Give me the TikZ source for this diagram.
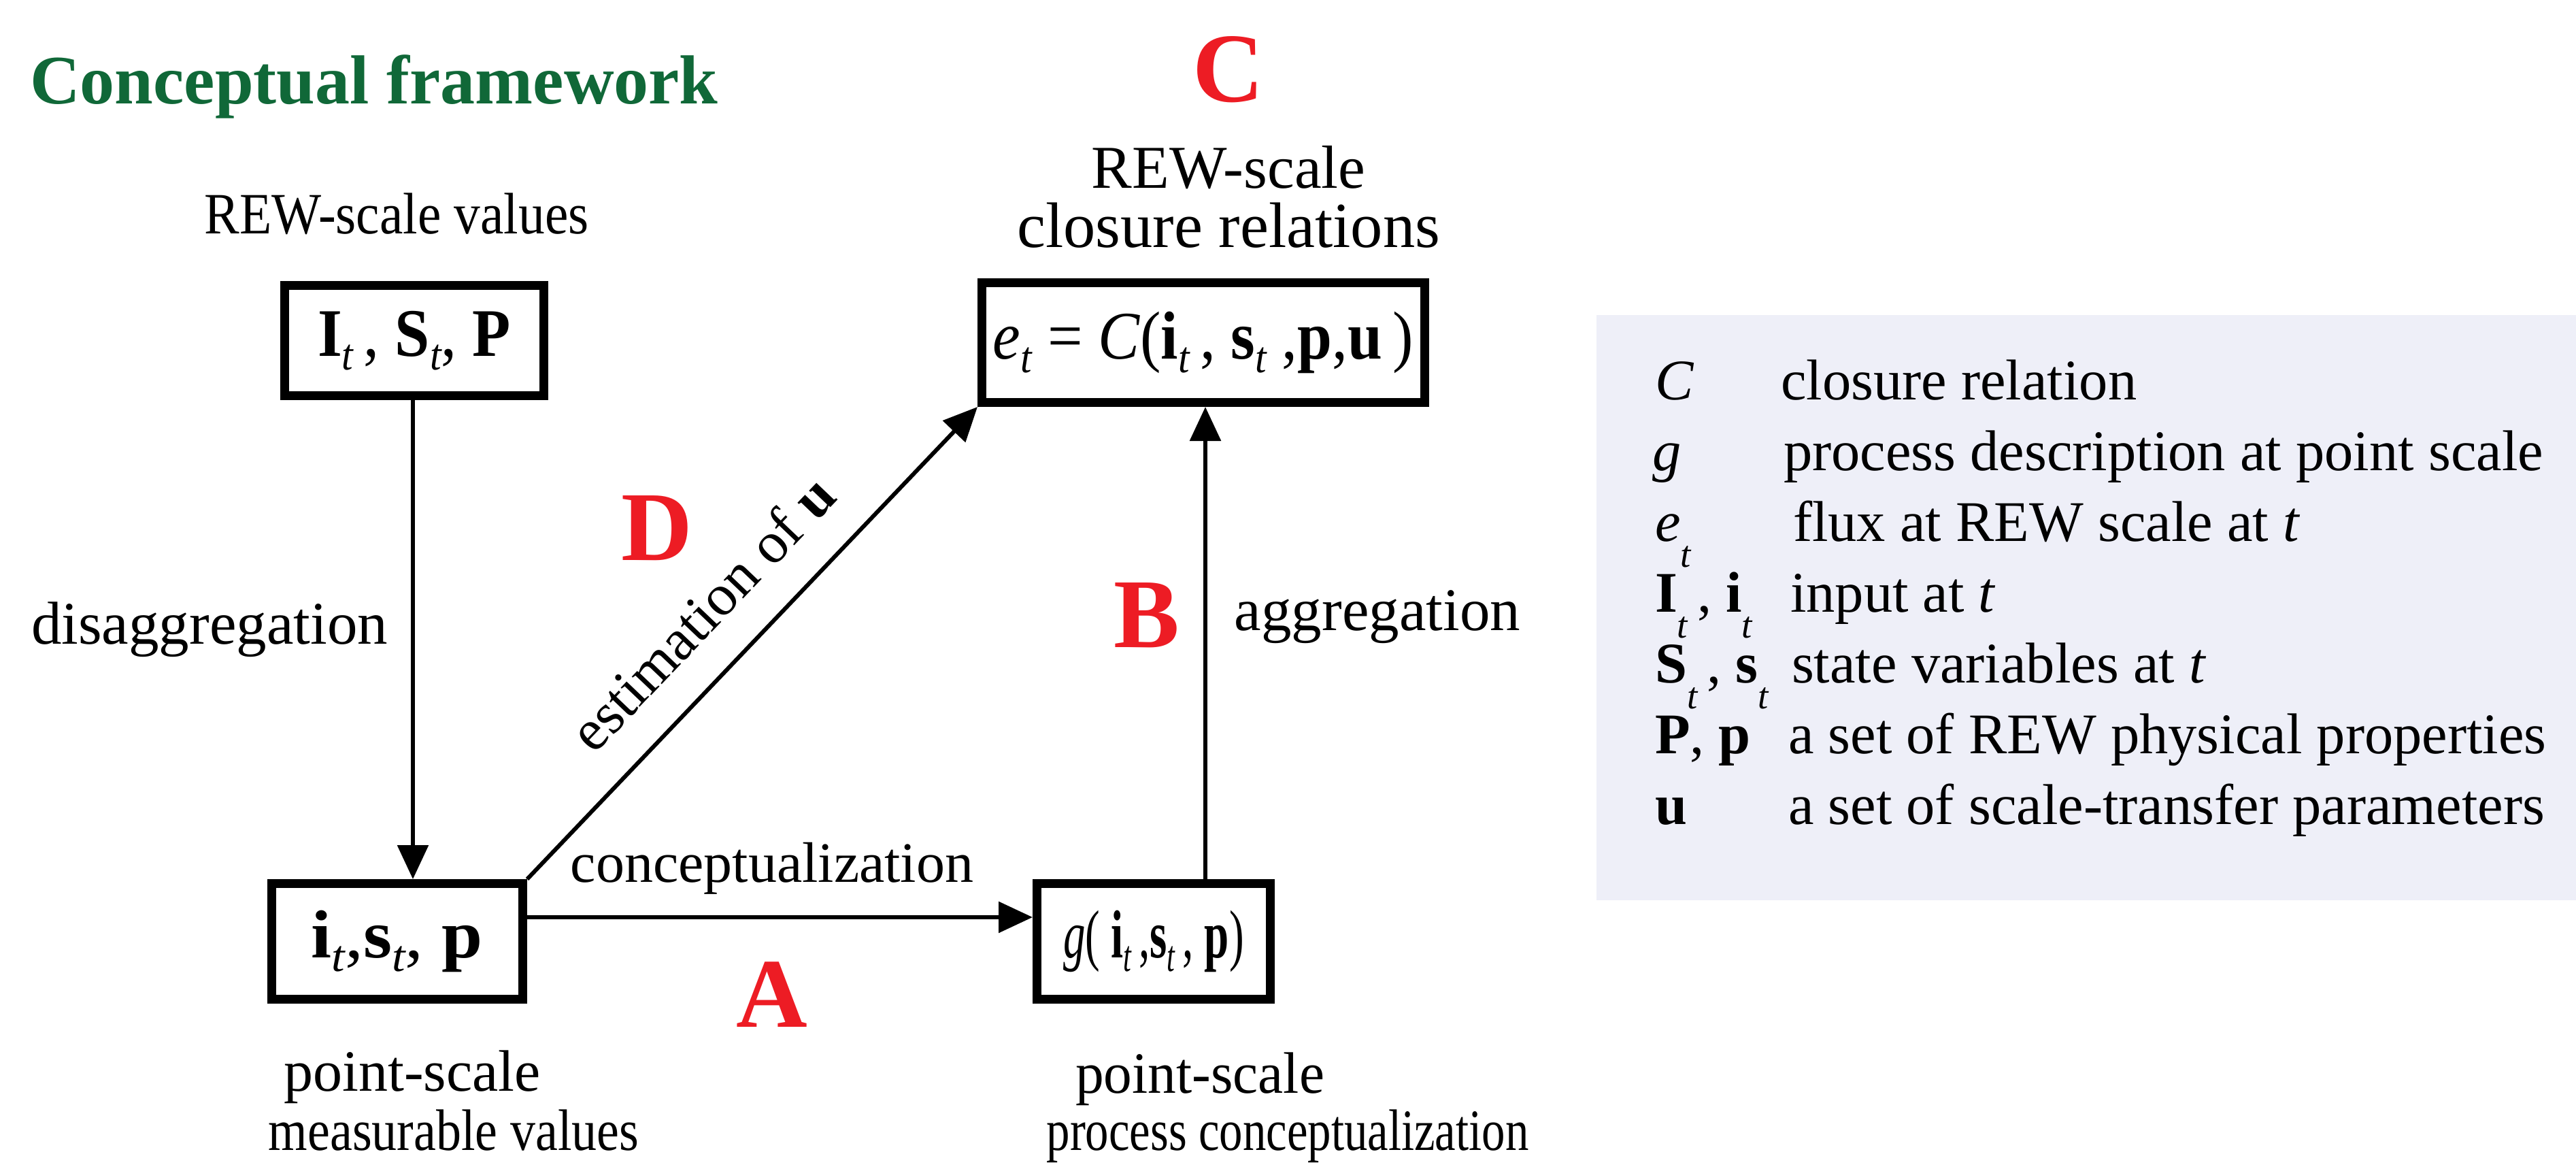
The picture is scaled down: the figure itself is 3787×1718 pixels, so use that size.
\documentclass[tikz,border=0pt]{standalone}
\usepackage{fontspec}
\setmainfont{Liberation Serif}
\usepackage{graphicx}
\usetikzlibrary{arrows.meta}
\definecolor{titlegreen}{RGB}{16,104,56}
\definecolor{lblred}{RGB}{237,28,36}
\definecolor{legbg}{RGB}{238,239,248}
\newcommand\tsub[1][-0.2em]{\raisebox{#1}{\scalebox{0.65}{\itshape t}}}
\newcommand\hs[2]{\scalebox{#1}[1]{#2}}
\begin{document}
\begin{tikzpicture}[x=0.2pt,y=-0.2pt,
  boxnode/.style={draw, line width=2.6pt, inner sep=0pt, font=\fontsize{20}{24}\selectfont},
  lbl/.style={font=\fontsize{17.2}{20}\selectfont, inner sep=0pt, anchor=base},
  redl/.style={font=\fontsize{29}{32}\selectfont\bfseries, text=lblred, inner sep=0pt, anchor=base},
  arr/.style={line width=1.2pt, -{Triangle[length=10pt,width=9pt]}},
  leg/.style={font=\fontsize{16.9}{20}\selectfont, inner sep=0pt, anchor=base west}]
\useasboundingbox (0,0) rectangle (3787,1718);
\fill[legbg] (2347,463) rectangle (3787,1323);

% boxes
\node[boxnode, minimum width=76.2pt, minimum height=32.4pt] (box1) at (609,500.5)
  {\hs{0.92}{\textbf{I}\tsub\,, \textbf{S}\tsub, \textbf{P}}};
\node[boxnode, minimum width=130.2pt, minimum height=35.2pt] (et) at (1769,503.5)
  {\hs{0.915}{\textit{e}\tsub\ = \textit{C}(\textbf{i}\tsub\,, \textbf{s}\tsub\ ,\textbf{p},\textbf{u}\,)}};
\node[boxnode, minimum width=73.8pt, minimum height=34pt] (isp) at (584,1383.5)
  {\hs{1.08}{\textbf{i}\tsub,\textbf{s}\tsub, \textbf{p}}};
\node[boxnode, minimum width=68.6pt, minimum height=34pt] (g) at (1696,1383.5)
  {\hs{0.65}{\textit{g}( \textbf{i}\tsub\,,\textbf{s}\tsub\,, \textbf{p})}};

% connectors
\coordinate (xA) at (607,0);
\coordinate (yA) at (0,1348);
\coordinate (xB) at (1772,0);
\draw[arr] (box1.south -| xA) -- (isp.north -| xA);
\draw[arr] (isp.east |- yA) -- (g.west |- yA);
\draw[arr] (g.north -| xB) -- (et.south -| xB);
\draw[arr] (isp.north east) -- node[sloped, pos=0.48, anchor=south, inner sep=10pt, font=\fontsize{17.2}{20}\selectfont] (est) {estimation of \textbf{u}} (et.south west);

% labels
\node[lbl, font=\fontsize{20.4}{24}\selectfont\bfseries, text=titlegreen] (title) at (550,153) {Conceptual framework};
\node[redl] (lC) at (1806,150) {C};
\node[lbl, font=\fontsize{17.9}{20}\selectfont] (rew1) at (1806,277) {REW-scale};
\node[lbl, font=\fontsize{18.9}{20}\selectfont] (rew2) at (1806,364) {closure relations};
\node[lbl] (rewv) at (583,344) {\hs{0.9}{REW-scale values}};
\node[lbl, font=\fontsize{17.8}{20}\selectfont] (dis) at (308,946) {disaggregation};
\node[lbl, font=\fontsize{17.8}{20}\selectfont] (agg) at (2025,926) {aggregation};
\node[lbl, font=\fontsize{16.8}{20}\selectfont] (con) at (1135,1296) {conceptualization};
\node[redl] (lA) at (1135,1509) {A};
\node[redl] (lB) at (1686,951) {B};
\node[redl] (lD) at (966,823) {D};
\node[lbl] (ps1) at (606,1603) {point-scale};
\node[lbl] (mv) at (667,1690) {\hs{0.86}{measurable values}};
\node[lbl] (ps2) at (1764,1606) {\hs{0.97}{point-scale}};
\node[lbl] (pc) at (1893,1690) {\hs{0.8}{process conceptualization}};

% legend
\node[leg] (s1) at (2432,587) {\textit{C}};
\node[leg] (d1) at (2617,587) {closure relation};
\node[leg] (s2) at (2428,691) {\textit{g}};
\node[leg] (d2) at (2621,691) {process description at point scale};
\node[leg] (s3) at (2432,795) {\textit{e}\tsub[-0.45em]};
\node[leg] (d3) at (2635,795) {flux at REW scale at \textit{t}};
\node[leg] (s4) at (2432,899) {\textbf{I}\tsub[-0.45em]\,, \textbf{i}\tsub[-0.45em]};
\node[leg] (d4) at (2631,899) {input at \textit{t}};
\node[leg] (s5) at (2432,1003) {\textbf{S}\tsub[-0.45em]\,, \textbf{s}\tsub[-0.45em]};
\node[leg] (d5) at (2633,1003) {state variables at \textit{t}};
\node[leg] (s6) at (2432,1107) {\textbf{P}, \textbf{p}};
\node[leg] (d6) at (2628,1107) {a set of REW physical properties};
\node[leg] (s7) at (2432,1211) {\textbf{u}};
\node[leg] (d7) at (2628,1211) {a set of scale-transfer parameters};
\end{tikzpicture}
\end{document}
